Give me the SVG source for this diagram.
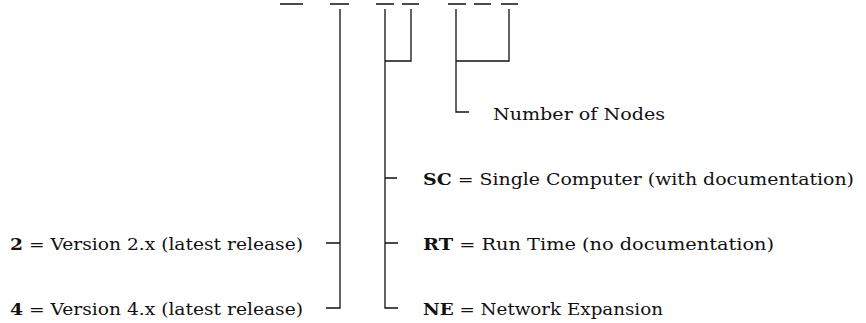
<svg xmlns="http://www.w3.org/2000/svg" width="866" height="323" viewBox="0 0 866 323">
<style>
text{font-family:"DejaVu Serif","Liberation Serif",serif;font-size:16px;fill:#111}
.b{font-weight:bold}
.ln{stroke:#111;stroke-width:1.3;fill:none}
</style>
<rect width="866" height="323" fill="#fff"/>
<g id="dashes" class="ln">
<path d="M280 4H303M330 4H349M376 4H394M402 4H419M448 4H466M474 4H491M501 4H518"/>
</g>
<g id="connectors" class="ln">
<path d="M340 9V308H326M340 243H326"/>
<path d="M385 9V308H398M385 243H398M385 178H397M385 61H411V9"/>
<path d="M456 9V112H469M456 61H509V9"/>
</g>
<g id="nodes-count"><text x="493" y="120" textLength="172" lengthAdjust="spacingAndGlyphs">Number of Nodes</text></g>
<g id="sc"><text x="423" y="185" textLength="431" lengthAdjust="spacingAndGlyphs"><tspan class="b">SC</tspan> = Single Computer (with documentation)</text></g>
<g id="rt"><text x="423" y="250" textLength="351" lengthAdjust="spacingAndGlyphs"><tspan class="b">RT</tspan> = Run Time (no documentation)</text></g>
<g id="ne"><text x="423" y="315" textLength="240" lengthAdjust="spacingAndGlyphs"><tspan class="b">NE</tspan> = Network Expansion</text></g>
<g id="v2"><text x="10" y="250" textLength="293" lengthAdjust="spacingAndGlyphs"><tspan class="b">2</tspan> = Version 2.x (latest release)</text></g>
<g id="v4"><text x="10" y="315" textLength="293" lengthAdjust="spacingAndGlyphs"><tspan class="b">4</tspan> = Version 4.x (latest release)</text></g>
</svg>
